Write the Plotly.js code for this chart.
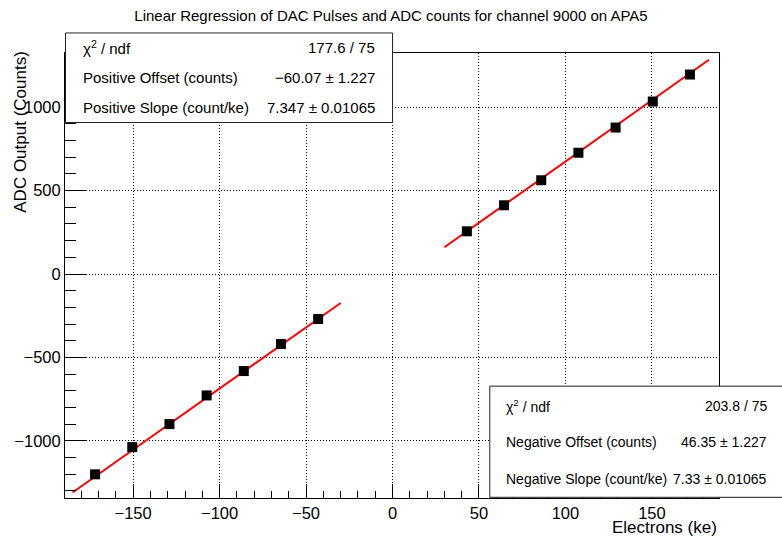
<!DOCTYPE html>
<html>
<head>
<meta charset="utf-8">
<script src="https://cdn.plot.ly/plotly-3.0.1.min.js"></script>
<style>html,body{margin:0;padding:0;background:#fff;}#chart{width:782px;height:536px;}</style>
</head>
<body>
<div id="chart"></div>
<script>
// ---- data ----
const negX = [-172, -150.5, -129, -107.5, -86, -64.5, -43];
const negY = [-1201, -1038, -900, -728, -582, -420, -270];
const posX = [43, 64.5, 86, 107.5, 129, 150.5, 172];
const posY = [256, 412, 562, 727, 878, 1034, 1196];

const posFitRange = [30, 183];
const negFitRange = [-185, -30];
const posOffset = -60.07, posSlope = 7.347;
const negOffset = 46.35, negSlope = 7.33;

const posStatLabels = ["χ<sup>2</sup> / ndf", "Positive Offset (counts)", "Positive Slope (count/ke)"];
const posStatValues = ["177.6 / 75", "−60.07 ± 1.227", "7.347 ± 0.01065"];
const negStatLabels = ["χ<sup>2</sup> / ndf", "Negative Offset (counts)", "Negative Slope (count/ke)"];
const negStatValues = ["203.8 / 75", "46.35 ± 1.227", "7.33 ± 0.01065"];

const titleText = "Linear Regression of DAC Pulses and ADC counts for channel 9000 on APA5";
const xTitle = "Electrons (ke)";
const yTitle = "ADC Output (Counts)";

// ---- layout geometry (pixels) ----
const W = 782, H = 536;
const L = 65, R = 719.3, T = 53.3, B = 497.7;
const PW = R - L, PH = B - T;
const px = p => (p - L) / PW;
const py = p => (B - p) / PH;

const FONT = "Liberation Sans, Arial, Helvetica, sans-serif";

const fitY = (xs, off, sl) => xs.map(x => off + sl * x);

const traces = [
  {x: posFitRange, y: fitY(posFitRange, posOffset, posSlope), mode: 'lines',
   line: {color: '#ff0000', width: 2}, hoverinfo: 'skip'},
  {x: negFitRange, y: fitY(negFitRange, negOffset, negSlope), mode: 'lines',
   line: {color: '#ff0000', width: 2}, hoverinfo: 'skip'},
  {x: posX, y: posY, mode: 'markers',
   marker: {symbol: 'square', size: 10, color: '#000'}},
  {x: negX, y: negY, mode: 'markers',
   marker: {symbol: 'square', size: 10, color: '#000'}}
];

const annotations = [];
const statRowsTop = [48, 78, 108];
posStatLabels.forEach((t, i) => {
  annotations.push({xref: 'paper', yref: 'paper', x: px(81), y: py(statRowsTop[i]),
    xanchor: 'left', yanchor: 'middle', text: t, showarrow: false,
    font: {family: FONT, size: 15, color: '#000'}});
  annotations.push({xref: 'paper', yref: 'paper', x: px(377), y: py(statRowsTop[i]),
    xanchor: 'right', yanchor: 'middle', text: posStatValues[i], showarrow: false,
    font: {family: FONT, size: 15, color: '#000'}});
});
const statRowsBot = [406, 442, 479];
negStatLabels.forEach((t, i) => {
  annotations.push({xref: 'paper', yref: 'paper', x: px(504), y: py(statRowsBot[i]),
    xanchor: 'left', yanchor: 'middle', text: t, showarrow: false,
    font: {family: FONT, size: 14, color: '#000'}});
  annotations.push({xref: 'paper', yref: 'paper', x: px(769), y: py(statRowsBot[i]),
    xanchor: 'right', yanchor: 'middle', text: negStatValues[i], showarrow: false,
    font: {family: FONT, size: 14, color: '#000'}});
});
annotations.push({xref: 'paper', yref: 'paper', x: px(719), y: py(527),
  xanchor: 'right', yanchor: 'middle', text: xTitle, showarrow: false,
  font: {family: FONT, size: 17, color: '#000'}});
annotations.push({xref: 'paper', yref: 'paper', x: px(21), y: py(49),
  xanchor: 'center', yanchor: 'top', textangle: -90, text: yTitle, showarrow: false,
  font: {family: FONT, size: 17, color: '#000'}});

const shapes = [
  {type: 'rect', xref: 'paper', yref: 'paper', x0: px(65.5), x1: px(392.7), y0: py(122.7), y1: py(33.3),
   fillcolor: '#fff', line: {color: '#222', width: 1}, layer: 'above'},
  {type: 'rect', xref: 'paper', yref: 'paper', x0: px(490), x1: px(783), y0: py(497), y1: py(386),
   fillcolor: '#fff', line: {color: '#222', width: 1}, layer: 'above'}
];

const axisCommon = {
  showline: true, mirror: true, linecolor: '#000', linewidth: 1,
  ticks: 'inside', tickcolor: '#000', tickwidth: 1,
  showgrid: true, gridcolor: '#000', gridwidth: 1, griddash: '1px,2px',
  zeroline: false,
  tickfont: {family: FONT, size: 16.5, color: '#000'}
};

const layout = {
  width: W, height: H,
  margin: {l: L, r: W - R, t: T, b: H - B, pad: 0},
  paper_bgcolor: '#fff', plot_bgcolor: '#fff',
  showlegend: false,
  title: {text: titleText, x: 0.5, xref: 'container', xanchor: 'center',
          y: 1 - 16 / H, yref: 'container', yanchor: 'middle',
          font: {family: FONT, size: 15, color: '#000'}},
  xaxis: Object.assign({}, axisCommon, {
    range: [-189.4, 188.8], tickmode: 'linear', tick0: 0, dtick: 50, ticklen: 14,
    minor: {dtick: 10, tick0: 0, ticklen: 7, tickcolor: '#000', ticks: 'inside', showgrid: false}
  }),
  yaxis: Object.assign({}, axisCommon, {
    range: [-1343, 1325], tickmode: 'linear', tick0: 0, dtick: 500, ticklen: 21,
    minor: {dtick: 100, tick0: 0, ticklen: 11, tickcolor: '#000', ticks: 'inside', showgrid: false}
  }),
  shapes: shapes,
  annotations: annotations
};

Plotly.newPlot('chart', traces, layout, {displayModeBar: false, staticPlot: true});
</script>
</body>
</html>
